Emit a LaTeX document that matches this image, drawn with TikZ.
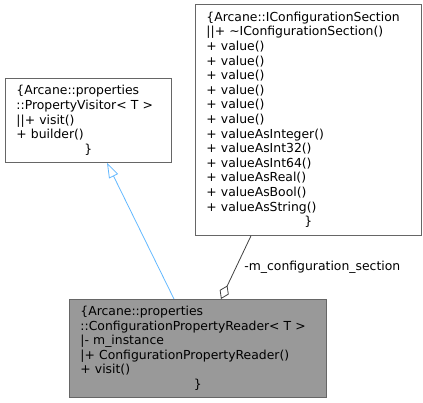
\documentclass[tikz,border=0pt]{standalone}
\usepackage{fontspec}
\setmainfont{DejaVu Sans}
\usetikzlibrary{arrows.meta}
\definecolor{edgegray}{HTML}{666666}
\definecolor{boxfill}{HTML}{999999}
\definecolor{inherit}{HTML}{63B8FF}
\definecolor{usage}{HTML}{404040}
\tikzset{
  x=1pt, y=1pt,
  classbox/.style={draw=edgegray, line width=0.8pt, fill=white, anchor=north west,
    inner xsep=11pt, inner ysep=0pt, align=left,
    font=\fontsize{12.4}{14.6}\selectfont},
  inheritline/.style={draw=inherit, line width=0.8pt,
    -{Triangle[open, length=15pt, width=10pt, fill=white]}},
  usageline/.style={draw=usage, line width=0.8pt,
    {Diamond[open, length=15pt, width=10pt, fill=white]}-},
  edgelabel/.style={font=\fontsize{12.4}{14.6}\selectfont, inner sep=0pt, anchor=west},
}
\newcommand{\closebrace}{\makebox[\linewidth]{\}}}
\begin{document}
\begin{tikzpicture}
\useasboundingbox (0,0) rectangle (423,403);

% PropertyVisitor
\node[classbox, text width=144pt, minimum height=84pt] (visitor) at (5,325)
  {\{Arcane::properties\\::PropertyVisitor< T >\\||+ visit()\\+ builder()\\\closebrace};

% IConfigurationSection
\node[classbox, text width=204pt, minimum height=231pt] (section) at (195,399)
  {\{Arcane::IConfigurationSection\\||+ \textasciitilde IConfigurationSection()\\
   + value()\\+ value()\\+ value()\\+ value()\\+ value()\\+ value()\\
   + valueAsInteger()\\+ valueAsInt32()\\+ valueAsInt64()\\+ valueAsReal()\\
   + valueAsBool()\\+ valueAsString()\\\closebrace};

% ConfigurationPropertyReader
\node[classbox, fill=boxfill, text width=235pt, minimum height=98pt] (reader) at (69,104)
  {\{Arcane::properties\\::ConfigurationPropertyReader< T >\\|- m\_instance\\
   |+ ConfigurationPropertyReader()\\+ visit()\\\closebrace};

% inheritance
\draw[inheritline] ([xshift=105pt]reader.north west) -- ([xshift=102pt]visitor.south west);

% member association
\draw[usageline] ([xshift=152pt]reader.north west) -- ([xshift=56pt]section.south west)
  node[pos=0.5, edgelabel, xshift=8pt] (lbl) {-m\_configuration\_section};
\end{tikzpicture}
\end{document}
